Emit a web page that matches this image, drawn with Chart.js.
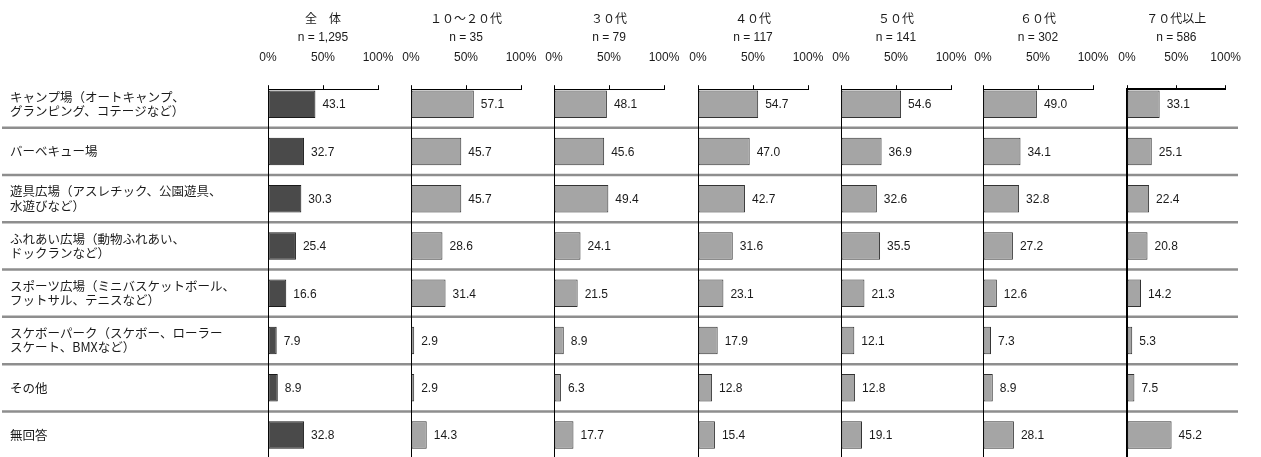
<!DOCTYPE html>
<html>
<head>
<meta charset="utf-8">
<script src="https://cdn.jsdelivr.net/npm/chart.js@4/dist/chart.umd.min.js"></script>
<style>
html,body{margin:0;padding:0;background:#fff;}
#wrap{position:relative;width:1261px;height:457px;overflow:hidden;background:#fff;}
#wrap canvas{position:absolute;left:0;top:0;}
</style>
</head>
<body>
<div id="wrap">
<canvas id="c0" width="1261" height="457"></canvas>
<canvas id="c1" width="1261" height="457"></canvas>
<canvas id="c2" width="1261" height="457"></canvas>
<canvas id="c3" width="1261" height="457"></canvas>
<canvas id="c4" width="1261" height="457"></canvas>
<canvas id="c5" width="1261" height="457"></canvas>
<canvas id="c6" width="1261" height="457"></canvas>
</div>
<script>
// ---- data ----
const categories = [
  ['キャンプ場（オートキャンプ、', 'グランピング、コテージなど）'],
  'バーベキュー場',
  ['遊具広場（アスレチック、公園遊具、', '水遊びなど）'],
  ['ふれあい広場（動物ふれあい、', 'ドックランなど）'],
  ['スポーツ広場（ミニバスケットボール、', 'フットサル、テニスなど）'],
  ['スケボーパーク（スケボー、ローラー', 'スケート、BMXなど）'],
  'その他',
  '無回答'
];
const groupTitles = ['全　体', '１０～２０代', '３０代', '４０代', '５０代', '６０代', '７０代以上'];
const groupN = ['n = 1,295', 'n = 35', 'n = 79', 'n = 117', 'n = 141', 'n = 302', 'n = 586'];
const valuesAll  = [43.1, 32.7, 30.3, 25.4, 16.6, 7.9, 8.9, 32.8];
const values1020 = [57.1, 45.7, 45.7, 28.6, 31.4, 2.9, 2.9, 14.3];
const values30   = [48.1, 45.6, 49.4, 24.1, 21.5, 8.9, 6.3, 17.7];
const values40   = [54.7, 47.0, 42.7, 31.6, 23.1, 17.9, 12.8, 15.4];
const values50   = [54.6, 36.9, 32.6, 35.5, 21.3, 12.1, 12.8, 19.1];
const values60   = [49.0, 34.1, 32.8, 27.2, 12.6, 7.3, 8.9, 28.1];
const values70   = [33.1, 25.1, 22.4, 20.8, 14.2, 5.3, 7.5, 45.2];
const xTicks = [0, 50, 100];

const seriesList = [valuesAll, values1020, values30, values40, values50, values60, values70];

// ---- layout / style ----
const W = 1261;
const panelLeft = [268, 411, 554, 698, 841, 983, 1127];
const panelWidth = 110;
const LATIN = "'Liberation Sans', Arial, sans-serif";
const CJK = "'Noto Sans CJK JP', 'Liberation Sans', sans-serif";
const TICK_LEN = 4, TICK_PAD = 20, TICK_FONT = 12;

const separatorPlugin = {
  id: 'separators',
  beforeDraw(chart, args, opts) {
    if (!opts.enabled) return;
    const ys = chart.scales.y;
    const ctx = chart.ctx;
    ctx.save();
    ctx.strokeStyle = '#8e8e8e';
    ctx.lineWidth = 2.5;
    for (let i = 0; i < categories.length - 1; i++) {
      const y = ys.getPixelForValue(i + 0.5);
      ctx.beginPath();
      ctx.moveTo(2, y);
      ctx.lineTo(1238, y);
      ctx.stroke();
    }
    ctx.restore();
  }
};

const valueLabelPlugin = {
  id: 'valueLabels',
  afterDatasetsDraw(chart) {
    const ctx = chart.ctx;
    ctx.save();
    ctx.font = '12px ' + LATIN;
    ctx.fillStyle = '#1a1a1a';
    ctx.textAlign = 'left';
    ctx.textBaseline = 'middle';
    chart.data.datasets.forEach((ds, di) => {
      const meta = chart.getDatasetMeta(di);
      meta.data.forEach((el, i) => {
        ctx.fillText(ds.data[i].x.toFixed(1), el.x + 7, el.y + 1);
      });
    });
    ctx.restore();
  }
};

seriesList.forEach((vals, k) => {
  const first = k === 0;
  const last = k === seriesList.length - 1;
  const axisW = last ? 2 : 1;
  new Chart(document.getElementById('c' + k), {
    type: 'bar',
    data: {
      datasets: [{
        data: vals.map((v, i) => ({ x: v, y: i })),
        backgroundColor: first ? '#4a4a4a' : '#a5a5a5',
        borderColor: first ? '#1a1a1a' : '#333333',
        borderWidth: 1,
        borderSkipped: false,
        categoryPercentage: 1,
        barPercentage: 0.58
      }]
    },
    options: {
      indexAxis: 'y',
      responsive: false,
      animation: false,
      layout: {
        padding: {
          left: first ? 10 : panelLeft[k],
          right: W - panelLeft[k] - panelWidth,
          top: 0,
          bottom: 0
        }
      },
      scales: {
        x: {
          type: 'linear',
          position: 'top',
          min: 0,
          max: 100,
          offset: false,
          afterBuildTicks: s => { s.ticks = xTicks.map(v => ({ value: v })); },
          afterFit: s => { s.height = TICK_LEN + TICK_PAD + TICK_FONT * 1.2; },
          ticks: {
            callback: v => v + '%',
            padding: TICK_PAD,
            autoSkip: false,
            maxRotation: 0,
            color: '#1a1a1a',
            font: { family: LATIN, size: TICK_FONT }
          },
          grid: { drawOnChartArea: false, drawTicks: true, tickLength: TICK_LEN, color: '#000', lineWidth: 1 },
          border: { display: true, color: '#000', width: axisW }
        },
        y: {
          type: 'linear',
          reverse: true,
          min: -0.317,
          max: 7.465,
          offset: false,
          afterBuildTicks: s => { s.ticks = categories.map((_, i) => ({ value: i })); },
          afterFit: s => {
            s.width = first ? panelLeft[0] - 10 : 0;
            s.paddingTop = 0;
            s.paddingBottom = 0;
          },
          ticks: {
            display: first,
            autoSkip: false,
            crossAlign: 'far',
            padding: 0,
            callback: v => categories[v],
            color: '#1a1a1a',
            font: { family: CJK, size: 12.5, lineHeight: 1.13 }
          },
          grid: { display: false, drawTicks: false, offset: false },
          border: { display: true, color: '#000', width: axisW }
        }
      },
      plugins: {
        legend: { display: false },
        tooltip: { enabled: false },
        separators: { enabled: first },
        title: {
          display: true,
          text: groupTitles[k],
          fullSize: false,
          color: '#1a1a1a',
          font: { family: CJK, size: 12, weight: 'normal' },
          padding: { top: 11, bottom: 0 }
        },
        subtitle: {
          display: true,
          text: groupN[k],
          fullSize: false,
          color: '#1a1a1a',
          font: { family: LATIN, size: 12, weight: 'normal' },
          padding: { top: 5, bottom: 6 }
        }
      }
    },
    plugins: [separatorPlugin, valueLabelPlugin]
  });
});
</script>
</body>
</html>
